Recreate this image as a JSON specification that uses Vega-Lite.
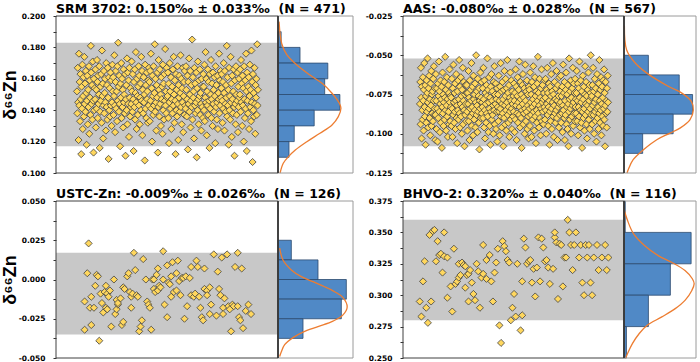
{
"$schema": "https://vega.github.io/schema/vega-lite/v6.json",
"padding": {"left": 1, "top": 2, "right": 4, "bottom": 0},
"datasets": {
"srm": [{"x":1,"y":0.152},{"x":2,"y":0.138},{"x":3,"y":0.167},{"x":4,"y":0.145},{"x":5,"y":0.121},{"x":6,"y":0.176},{"x":7,"y":0.143},{"x":8,"y":0.158},{"x":9,"y":0.133},{"x":10,"y":0.163},{"x":11,"y":0.147},{"x":12,"y":0.112},{"x":13,"y":0.155},{"x":14,"y":0.141},{"x":15,"y":0.169},{"x":16,"y":0.128},{"x":17,"y":0.149},{"x":18,"y":0.161},{"x":19,"y":0.136},{"x":20,"y":0.174},{"x":21,"y":0.144},{"x":22,"y":0.157},{"x":23,"y":0.139},{"x":24,"y":0.165},{"x":25,"y":0.151},{"x":26,"y":0.118},{"x":27,"y":0.146},{"x":28,"y":0.162},{"x":29,"y":0.131},{"x":30,"y":0.153},{"x":31,"y":0.142},{"x":32,"y":0.168},{"x":33,"y":0.125},{"x":34,"y":0.159},{"x":35,"y":0.148},{"x":36,"y":0.137},{"x":37,"y":0.181},{"x":38,"y":0.164},{"x":39,"y":0.144},{"x":40,"y":0.156},{"x":41,"y":0.134},{"x":42,"y":0.171},{"x":43,"y":0.146},{"x":44,"y":0.113},{"x":45,"y":0.160},{"x":46,"y":0.140},{"x":47,"y":0.154},
{"x":48,"y":0.147},{"x":49,"y":0.166},{"x":50,"y":0.129},{"x":51,"y":0.153},{"x":52,"y":0.141},{"x":53,"y":0.172},{"x":54,"y":0.158},{"x":55,"y":0.135},{"x":56,"y":0.162},{"x":57,"y":0.144},{"x":58,"y":0.150},{"x":59,"y":0.168},{"x":60,"y":0.116},{"x":61,"y":0.139},{"x":62,"y":0.155},{"x":63,"y":0.146},{"x":64,"y":0.163},{"x":65,"y":0.132},{"x":66,"y":0.178},{"x":67,"y":0.149},{"x":68,"y":0.157},{"x":69,"y":0.122},{"x":70,"y":0.143},{"x":71,"y":0.165},{"x":72,"y":0.138},{"x":73,"y":0.151},{"x":74,"y":0.160},{"x":75,"y":0.145},{"x":76,"y":0.127},{"x":77,"y":0.170},{"x":78,"y":0.142},{"x":79,"y":0.156},{"x":80,"y":0.134},{"x":81,"y":0.167},{"x":82,"y":0.148},{"x":83,"y":0.109},{"x":84,"y":0.161},{"x":85,"y":0.140},{"x":86,"y":0.154},{"x":87,"y":0.136},{"x":88,"y":0.164},{"x":89,"y":0.143},{"x":90,"y":0.159},{"x":91,"y":0.130},{"x":92,"y":0.145},{"x":93,"y":0.169},{"x":94,"y":0.152},
{"x":95,"y":0.161},{"x":96,"y":0.137},{"x":97,"y":0.149},{"x":98,"y":0.175},{"x":99,"y":0.143},{"x":100,"y":0.126},{"x":101,"y":0.158},{"x":102,"y":0.165},{"x":103,"y":0.141},{"x":104,"y":0.152},{"x":105,"y":0.133},{"x":106,"y":0.168},{"x":107,"y":0.146},{"x":108,"y":0.183},{"x":109,"y":0.155},{"x":110,"y":0.139},{"x":111,"y":0.162},{"x":112,"y":0.144},{"x":113,"y":0.117},{"x":114,"y":0.157},{"x":115,"y":0.148},{"x":116,"y":0.170},{"x":117,"y":0.135},{"x":118,"y":0.160},{"x":119,"y":0.142},{"x":120,"y":0.153},{"x":121,"y":0.129},{"x":122,"y":0.166},{"x":123,"y":0.145},{"x":124,"y":0.150},{"x":125,"y":0.138},{"x":126,"y":0.163},{"x":127,"y":0.111},{"x":128,"y":0.147},{"x":129,"y":0.156},{"x":130,"y":0.140},{"x":131,"y":0.173},{"x":132,"y":0.131},{"x":133,"y":0.164},{"x":134,"y":0.144},{"x":135,"y":0.159},{"x":136,"y":0.123},{"x":137,"y":0.167},{"x":138,"y":0.148},{"x":139,"y":0.136},{"x":140,"y":0.154},{"x":141,"y":0.142},
{"x":142,"y":0.144},{"x":143,"y":0.171},{"x":144,"y":0.152},{"x":145,"y":0.139},{"x":146,"y":0.163},{"x":147,"y":0.147},{"x":148,"y":0.114},{"x":149,"y":0.158},{"x":150,"y":0.142},{"x":151,"y":0.166},{"x":152,"y":0.134},{"x":153,"y":0.151},{"x":154,"y":0.177},{"x":155,"y":0.145},{"x":156,"y":0.128},{"x":157,"y":0.160},{"x":158,"y":0.149},{"x":159,"y":0.137},{"x":160,"y":0.155},{"x":161,"y":0.168},{"x":162,"y":0.143},{"x":163,"y":0.162},{"x":164,"y":0.131},{"x":165,"y":0.148},{"x":166,"y":0.157},{"x":167,"y":0.140},{"x":168,"y":0.174},{"x":169,"y":0.146},{"x":170,"y":0.165},{"x":171,"y":0.124},{"x":172,"y":0.153},{"x":173,"y":0.138},{"x":174,"y":0.161},{"x":175,"y":0.145},{"x":176,"y":0.150},{"x":177,"y":0.108},{"x":178,"y":0.169},{"x":179,"y":0.141},{"x":180,"y":0.156},{"x":181,"y":0.135},{"x":182,"y":0.164},{"x":183,"y":0.147},{"x":184,"y":0.152},{"x":185,"y":0.132},{"x":186,"y":0.159},{"x":187,"y":0.143},{"x":188,"y":0.167},
{"x":189,"y":0.158},{"x":190,"y":0.133},{"x":191,"y":0.165},{"x":192,"y":0.146},{"x":193,"y":0.176},{"x":194,"y":0.141},{"x":195,"y":0.154},{"x":196,"y":0.120},{"x":197,"y":0.162},{"x":198,"y":0.149},{"x":199,"y":0.137},{"x":200,"y":0.168},{"x":201,"y":0.143},{"x":202,"y":0.151},{"x":203,"y":0.182},{"x":204,"y":0.139},{"x":205,"y":0.160},{"x":206,"y":0.145},{"x":207,"y":0.127},{"x":208,"y":0.156},{"x":209,"y":0.148},{"x":210,"y":0.164},{"x":211,"y":0.113},{"x":212,"y":0.142},{"x":213,"y":0.172},{"x":214,"y":0.153},{"x":215,"y":0.136},{"x":216,"y":0.166},{"x":217,"y":0.144},{"x":218,"y":0.150},{"x":219,"y":0.130},{"x":220,"y":0.161},{"x":221,"y":0.147},{"x":222,"y":0.155},{"x":223,"y":0.125},{"x":224,"y":0.169},{"x":225,"y":0.140},{"x":226,"y":0.157},{"x":227,"y":0.134},{"x":228,"y":0.163},{"x":229,"y":0.146},{"x":230,"y":0.179},{"x":231,"y":0.143},{"x":232,"y":0.152},{"x":233,"y":0.138},{"x":234,"y":0.167},{"x":235,"y":0.148},
{"x":236,"y":0.149},{"x":237,"y":0.164},{"x":238,"y":0.135},{"x":239,"y":0.157},{"x":240,"y":0.119},{"x":241,"y":0.145},{"x":242,"y":0.170},{"x":243,"y":0.152},{"x":244,"y":0.141},{"x":245,"y":0.161},{"x":246,"y":0.128},{"x":247,"y":0.147},{"x":248,"y":0.155},{"x":249,"y":0.138},{"x":250,"y":0.166},{"x":251,"y":0.143},{"x":252,"y":0.174},{"x":253,"y":0.150},{"x":254,"y":0.132},{"x":255,"y":0.159},{"x":256,"y":0.146},{"x":257,"y":0.112},{"x":258,"y":0.163},{"x":259,"y":0.140},{"x":260,"y":0.153},{"x":261,"y":0.136},{"x":262,"y":0.168},{"x":263,"y":0.144},{"x":264,"y":0.121},{"x":265,"y":0.156},{"x":266,"y":0.148},{"x":267,"y":0.162},{"x":268,"y":0.139},{"x":269,"y":0.151},{"x":270,"y":0.175},{"x":271,"y":0.142},{"x":272,"y":0.160},{"x":273,"y":0.131},{"x":274,"y":0.154},{"x":275,"y":0.145},{"x":276,"y":0.167},{"x":277,"y":0.126},{"x":278,"y":0.149},{"x":279,"y":0.158},{"x":280,"y":0.137},{"x":281,"y":0.165},{"x":282,"y":0.143},
{"x":283,"y":0.141},{"x":284,"y":0.168},{"x":285,"y":0.153},{"x":286,"y":0.136},{"x":287,"y":0.147},{"x":288,"y":0.162},{"x":289,"y":0.115},{"x":290,"y":0.158},{"x":291,"y":0.144},{"x":292,"y":0.173},{"x":293,"y":0.139},{"x":294,"y":0.150},{"x":295,"y":0.165},{"x":296,"y":0.129},{"x":297,"y":0.146},{"x":298,"y":0.156},{"x":299,"y":0.142},{"x":300,"y":0.185},{"x":301,"y":0.134},{"x":302,"y":0.161},{"x":303,"y":0.148},{"x":304,"y":0.152},{"x":305,"y":0.122},{"x":306,"y":0.167},{"x":307,"y":0.143},{"x":308,"y":0.157},{"x":309,"y":0.138},{"x":310,"y":0.145},{"x":311,"y":0.164},{"x":312,"y":0.110},{"x":313,"y":0.154},{"x":314,"y":0.140},{"x":315,"y":0.171},{"x":316,"y":0.147},{"x":317,"y":0.131},{"x":318,"y":0.159},{"x":319,"y":0.149},{"x":320,"y":0.166},{"x":321,"y":0.137},{"x":322,"y":0.151},{"x":323,"y":0.144},{"x":324,"y":0.127},{"x":325,"y":0.160},{"x":326,"y":0.142},{"x":327,"y":0.155},{"x":328,"y":0.135},{"x":329,"y":0.163},
{"x":330,"y":0.155},{"x":331,"y":0.140},{"x":332,"y":0.169},{"x":333,"y":0.133},{"x":334,"y":0.148},{"x":335,"y":0.177},{"x":336,"y":0.145},{"x":337,"y":0.160},{"x":338,"y":0.124},{"x":339,"y":0.152},{"x":340,"y":0.143},{"x":341,"y":0.166},{"x":342,"y":0.137},{"x":343,"y":0.158},{"x":344,"y":0.146},{"x":345,"y":0.116},{"x":346,"y":0.163},{"x":347,"y":0.141},{"x":348,"y":0.150},{"x":349,"y":0.172},{"x":350,"y":0.135},{"x":351,"y":0.147},{"x":352,"y":0.157},{"x":353,"y":0.130},{"x":354,"y":0.164},{"x":355,"y":0.144},{"x":356,"y":0.153},{"x":357,"y":0.139},{"x":358,"y":0.161},{"x":359,"y":0.149},{"x":360,"y":0.119},{"x":361,"y":0.168},{"x":362,"y":0.142},{"x":363,"y":0.156},{"x":364,"y":0.134},{"x":365,"y":0.145},{"x":366,"y":0.162},{"x":367,"y":0.128},{"x":368,"y":0.151},{"x":369,"y":0.147},{"x":370,"y":0.176},{"x":371,"y":0.138},{"x":372,"y":0.159},{"x":373,"y":0.143},{"x":374,"y":0.165},{"x":375,"y":0.148},{"x":376,"y":0.154},
{"x":377,"y":0.163},{"x":378,"y":0.146},{"x":379,"y":0.132},{"x":380,"y":0.158},{"x":381,"y":0.141},{"x":382,"y":0.170},{"x":383,"y":0.151},{"x":384,"y":0.127},{"x":385,"y":0.165},{"x":386,"y":0.144},{"x":387,"y":0.139},{"x":388,"y":0.156},{"x":389,"y":0.148},{"x":390,"y":0.181},{"x":391,"y":0.136},{"x":392,"y":0.161},{"x":393,"y":0.143},{"x":394,"y":0.153},{"x":395,"y":0.118},{"x":396,"y":0.167},{"x":397,"y":0.140},{"x":398,"y":0.149},{"x":399,"y":0.134},{"x":400,"y":0.174},{"x":401,"y":0.145},{"x":402,"y":0.157},{"x":403,"y":0.123},{"x":404,"y":0.162},{"x":405,"y":0.147},{"x":406,"y":0.138},{"x":407,"y":0.152},{"x":408,"y":0.166},{"x":409,"y":0.142},{"x":410,"y":0.111},{"x":411,"y":0.159},{"x":412,"y":0.144},{"x":413,"y":0.131},{"x":414,"y":0.168},{"x":415,"y":0.150},{"x":416,"y":0.137},{"x":417,"y":0.146},{"x":418,"y":0.164},{"x":419,"y":0.126},{"x":420,"y":0.155},{"x":421,"y":0.142},{"x":422,"y":0.160},{"x":423,"y":0.148},
{"x":424,"y":0.150},{"x":425,"y":0.166},{"x":426,"y":0.139},{"x":427,"y":0.172},{"x":428,"y":0.145},{"x":429,"y":0.157},{"x":430,"y":0.130},{"x":431,"y":0.162},{"x":432,"y":0.143},{"x":433,"y":0.154},{"x":434,"y":0.120},{"x":435,"y":0.168},{"x":436,"y":0.147},{"x":437,"y":0.135},{"x":438,"y":0.159},{"x":439,"y":0.141},{"x":440,"y":0.176},{"x":441,"y":0.152},{"x":442,"y":0.114},{"x":443,"y":0.164},{"x":444,"y":0.146},{"x":445,"y":0.138},{"x":446,"y":0.155},{"x":447,"y":0.161},{"x":448,"y":0.128},{"x":449,"y":0.149},{"x":450,"y":0.169},{"x":451,"y":0.142},{"x":452,"y":0.153},{"x":453,"y":0.133},{"x":454,"y":0.178},{"x":455,"y":0.145},{"x":456,"y":0.158},{"x":457,"y":0.107},{"x":458,"y":0.163},{"x":459,"y":0.140},{"x":460,"y":0.151},{"x":461,"y":0.136},{"x":462,"y":0.167},{"x":463,"y":0.144},{"x":464,"y":0.125},{"x":465,"y":0.156},{"x":466,"y":0.148},{"x":467,"y":0.160},{"x":468,"y":0.137},{"x":469,"y":0.182},{"x":470,"y":0.143},{"x":471,"y":0.153}],
"aas": [{"x":1,"y":-0.081},{"x":2,"y":-0.067},{"x":3,"y":-0.094},{"x":4,"y":-0.058},{"x":5,"y":-0.077},{"x":6,"y":-0.103},{"x":7,"y":-0.070},{"x":8,"y":-0.085},{"x":9,"y":-0.091},{"x":10,"y":-0.064},{"x":11,"y":-0.079},{"x":12,"y":-0.098},{"x":13,"y":-0.072},{"x":14,"y":-0.055},{"x":15,"y":-0.083},{"x":16,"y":-0.089},{"x":17,"y":-0.069},{"x":18,"y":-0.107},{"x":19,"y":-0.076},{"x":20,"y":-0.093},{"x":21,"y":-0.066},{"x":22,"y":-0.086},{"x":23,"y":-0.074},{"x":24,"y":-0.052},{"x":25,"y":-0.080},{"x":26,"y":-0.096},{"x":27,"y":-0.071},{"x":28,"y":-0.084},{"x":29,"y":-0.063},{"x":30,"y":-0.090},{"x":31,"y":-0.078},{"x":32,"y":-0.101},{"x":33,"y":-0.068},{"x":34,"y":-0.082},{"x":35,"y":-0.060},{"x":36,"y":-0.095},{"x":37,"y":-0.075},{"x":38,"y":-0.087},{"x":39,"y":-0.073},{"x":40,"y":-0.092},{"x":41,"y":-0.065},{"x":42,"y":-0.079},{"x":43,"y":-0.057},{"x":44,"y":-0.088},{"x":45,"y":-0.084},{"x":46,"y":-0.071},{"x":47,"y":-0.104},
{"x":48,"y":-0.088},{"x":49,"y":-0.062},{"x":50,"y":-0.079},{"x":51,"y":-0.097},{"x":52,"y":-0.071},{"x":53,"y":-0.084},{"x":54,"y":-0.105},{"x":55,"y":-0.068},{"x":56,"y":-0.090},{"x":57,"y":-0.076},{"x":58,"y":-0.054},{"x":59,"y":-0.086},{"x":60,"y":-0.073},{"x":61,"y":-0.099},{"x":62,"y":-0.081},{"x":63,"y":-0.066},{"x":64,"y":-0.093},{"x":65,"y":-0.078},{"x":66,"y":-0.070},{"x":67,"y":-0.109},{"x":68,"y":-0.083},{"x":69,"y":-0.061},{"x":70,"y":-0.087},{"x":71,"y":-0.075},{"x":72,"y":-0.095},{"x":73,"y":-0.080},{"x":74,"y":-0.067},{"x":75,"y":-0.091},{"x":76,"y":-0.077},{"x":77,"y":-0.051},{"x":78,"y":-0.085},{"x":79,"y":-0.072},{"x":80,"y":-0.098},{"x":81,"y":-0.082},{"x":82,"y":-0.064},{"x":83,"y":-0.089},{"x":84,"y":-0.078},{"x":85,"y":-0.102},{"x":86,"y":-0.069},{"x":87,"y":-0.086},{"x":88,"y":-0.074},{"x":89,"y":-0.094},{"x":90,"y":-0.059},{"x":91,"y":-0.080},{"x":92,"y":-0.092},{"x":93,"y":-0.076},{"x":94,"y":-0.083},
{"x":95,"y":-0.077},{"x":96,"y":-0.095},{"x":97,"y":-0.065},{"x":98,"y":-0.084},{"x":99,"y":-0.102},{"x":100,"y":-0.071},{"x":101,"y":-0.088},{"x":102,"y":-0.056},{"x":103,"y":-0.080},{"x":104,"y":-0.093},{"x":105,"y":-0.074},{"x":106,"y":-0.086},{"x":107,"y":-0.068},{"x":108,"y":-0.097},{"x":109,"y":-0.079},{"x":110,"y":-0.062},{"x":111,"y":-0.090},{"x":112,"y":-0.082},{"x":113,"y":-0.106},{"x":114,"y":-0.073},{"x":115,"y":-0.085},{"x":116,"y":-0.066},{"x":117,"y":-0.091},{"x":118,"y":-0.078},{"x":119,"y":-0.053},{"x":120,"y":-0.087},{"x":121,"y":-0.070},{"x":122,"y":-0.096},{"x":123,"y":-0.081},{"x":124,"y":-0.064},{"x":125,"y":-0.089},{"x":126,"y":-0.076},{"x":127,"y":-0.100},{"x":128,"y":-0.072},{"x":129,"y":-0.083},{"x":130,"y":-0.058},{"x":131,"y":-0.094},{"x":132,"y":-0.079},{"x":133,"y":-0.067},{"x":134,"y":-0.085},{"x":135,"y":-0.108},{"x":136,"y":-0.075},{"x":137,"y":-0.088},{"x":138,"y":-0.069},{"x":139,"y":-0.081},{"x":140,"y":-0.092},{"x":141,"y":-0.074},
{"x":142,"y":-0.069},{"x":143,"y":-0.086},{"x":144,"y":-0.098},{"x":145,"y":-0.074},{"x":146,"y":-0.081},{"x":147,"y":-0.060},{"x":148,"y":-0.092},{"x":149,"y":-0.077},{"x":150,"y":-0.104},{"x":151,"y":-0.066},{"x":152,"y":-0.084},{"x":153,"y":-0.089},{"x":154,"y":-0.072},{"x":155,"y":-0.079},{"x":156,"y":-0.055},{"x":157,"y":-0.095},{"x":158,"y":-0.083},{"x":159,"y":-0.070},{"x":160,"y":-0.087},{"x":161,"y":-0.101},{"x":162,"y":-0.063},{"x":163,"y":-0.078},{"x":164,"y":-0.091},{"x":165,"y":-0.075},{"x":166,"y":-0.085},{"x":167,"y":-0.068},{"x":168,"y":-0.096},{"x":169,"y":-0.080},{"x":170,"y":-0.050},{"x":171,"y":-0.088},{"x":172,"y":-0.073},{"x":173,"y":-0.082},{"x":174,"y":-0.099},{"x":175,"y":-0.065},{"x":176,"y":-0.086},{"x":177,"y":-0.076},{"x":178,"y":-0.093},{"x":179,"y":-0.071},{"x":180,"y":-0.110},{"x":181,"y":-0.079},{"x":182,"y":-0.084},{"x":183,"y":-0.061},{"x":184,"y":-0.090},{"x":185,"y":-0.077},{"x":186,"y":-0.067},{"x":187,"y":-0.087},{"x":188,"y":-0.080},
{"x":189,"y":-0.083},{"x":190,"y":-0.071},{"x":191,"y":-0.090},{"x":192,"y":-0.058},{"x":193,"y":-0.078},{"x":194,"y":-0.096},{"x":195,"y":-0.066},{"x":196,"y":-0.085},{"x":197,"y":-0.103},{"x":198,"y":-0.074},{"x":199,"y":-0.081},{"x":200,"y":-0.093},{"x":201,"y":-0.069},{"x":202,"y":-0.087},{"x":203,"y":-0.076},{"x":204,"y":-0.052},{"x":205,"y":-0.089},{"x":206,"y":-0.072},{"x":207,"y":-0.099},{"x":208,"y":-0.080},{"x":209,"y":-0.064},{"x":210,"y":-0.084},{"x":211,"y":-0.095},{"x":212,"y":-0.077},{"x":213,"y":-0.107},{"x":214,"y":-0.070},{"x":215,"y":-0.086},{"x":216,"y":-0.062},{"x":217,"y":-0.091},{"x":218,"y":-0.079},{"x":219,"y":-0.073},{"x":220,"y":-0.088},{"x":221,"y":-0.082},{"x":222,"y":-0.100},{"x":223,"y":-0.067},{"x":224,"y":-0.085},{"x":225,"y":-0.057},{"x":226,"y":-0.094},{"x":227,"y":-0.075},{"x":228,"y":-0.081},{"x":229,"y":-0.068},{"x":230,"y":-0.097},{"x":231,"y":-0.078},{"x":232,"y":-0.086},{"x":233,"y":-0.071},{"x":234,"y":-0.105},{"x":235,"y":-0.083},
{"x":236,"y":-0.075},{"x":237,"y":-0.092},{"x":238,"y":-0.063},{"x":239,"y":-0.086},{"x":240,"y":-0.079},{"x":241,"y":-0.101},{"x":242,"y":-0.070},{"x":243,"y":-0.084},{"x":244,"y":-0.055},{"x":245,"y":-0.089},{"x":246,"y":-0.073},{"x":247,"y":-0.096},{"x":248,"y":-0.081},{"x":249,"y":-0.067},{"x":250,"y":-0.087},{"x":251,"y":-0.078},{"x":252,"y":-0.108},{"x":253,"y":-0.072},{"x":254,"y":-0.090},{"x":255,"y":-0.060},{"x":256,"y":-0.082},{"x":257,"y":-0.094},{"x":258,"y":-0.076},{"x":259,"y":-0.065},{"x":260,"y":-0.085},{"x":261,"y":-0.098},{"x":262,"y":-0.071},{"x":263,"y":-0.080},{"x":264,"y":-0.053},{"x":265,"y":-0.088},{"x":266,"y":-0.074},{"x":267,"y":-0.093},{"x":268,"y":-0.083},{"x":269,"y":-0.069},{"x":270,"y":-0.102},{"x":271,"y":-0.077},{"x":272,"y":-0.086},{"x":273,"y":-0.061},{"x":274,"y":-0.091},{"x":275,"y":-0.079},{"x":276,"y":-0.066},{"x":277,"y":-0.084},{"x":278,"y":-0.097},{"x":279,"y":-0.073},{"x":280,"y":-0.081},{"x":281,"y":-0.089},{"x":282,"y":-0.076},
{"x":283,"y":-0.086},{"x":284,"y":-0.068},{"x":285,"y":-0.079},{"x":286,"y":-0.099},{"x":287,"y":-0.074},{"x":288,"y":-0.091},{"x":289,"y":-0.059},{"x":290,"y":-0.082},{"x":291,"y":-0.070},{"x":292,"y":-0.104},{"x":293,"y":-0.087},{"x":294,"y":-0.076},{"x":295,"y":-0.064},{"x":296,"y":-0.093},{"x":297,"y":-0.080},{"x":298,"y":-0.072},{"x":299,"y":-0.088},{"x":300,"y":-0.054},{"x":301,"y":-0.083},{"x":302,"y":-0.096},{"x":303,"y":-0.067},{"x":304,"y":-0.078},{"x":305,"y":-0.090},{"x":306,"y":-0.075},{"x":307,"y":-0.109},{"x":308,"y":-0.085},{"x":309,"y":-0.069},{"x":310,"y":-0.081},{"x":311,"y":-0.062},{"x":312,"y":-0.094},{"x":313,"y":-0.077},{"x":314,"y":-0.087},{"x":315,"y":-0.071},{"x":316,"y":-0.100},{"x":317,"y":-0.084},{"x":318,"y":-0.056},{"x":319,"y":-0.079},{"x":320,"y":-0.092},{"x":321,"y":-0.073},{"x":322,"y":-0.086},{"x":323,"y":-0.066},{"x":324,"y":-0.097},{"x":325,"y":-0.082},{"x":326,"y":-0.075},{"x":327,"y":-0.089},{"x":328,"y":-0.103},{"x":329,"y":-0.070},
{"x":330,"y":-0.072},{"x":331,"y":-0.084},{"x":332,"y":-0.095},{"x":333,"y":-0.061},{"x":334,"y":-0.080},{"x":335,"y":-0.088},{"x":336,"y":-0.075},{"x":337,"y":-0.102},{"x":338,"y":-0.067},{"x":339,"y":-0.083},{"x":340,"y":-0.091},{"x":341,"y":-0.078},{"x":342,"y":-0.057},{"x":343,"y":-0.086},{"x":344,"y":-0.070},{"x":345,"y":-0.098},{"x":346,"y":-0.081},{"x":347,"y":-0.064},{"x":348,"y":-0.089},{"x":349,"y":-0.076},{"x":350,"y":-0.106},{"x":351,"y":-0.073},{"x":352,"y":-0.085},{"x":353,"y":-0.093},{"x":354,"y":-0.068},{"x":355,"y":-0.079},{"x":356,"y":-0.051},{"x":357,"y":-0.087},{"x":358,"y":-0.074},{"x":359,"y":-0.096},{"x":360,"y":-0.082},{"x":361,"y":-0.065},{"x":362,"y":-0.090},{"x":363,"y":-0.077},{"x":364,"y":-0.101},{"x":365,"y":-0.071},{"x":366,"y":-0.084},{"x":367,"y":-0.059},{"x":368,"y":-0.092},{"x":369,"y":-0.080},{"x":370,"y":-0.069},{"x":371,"y":-0.086},{"x":372,"y":-0.078},{"x":373,"y":-0.094},{"x":374,"y":-0.074},{"x":375,"y":-0.083},{"x":376,"y":-0.066},
{"x":377,"y":-0.091},{"x":378,"y":-0.077},{"x":379,"y":-0.065},{"x":380,"y":-0.085},{"x":381,"y":-0.100},{"x":382,"y":-0.072},{"x":383,"y":-0.081},{"x":384,"y":-0.058},{"x":385,"y":-0.088},{"x":386,"y":-0.074},{"x":387,"y":-0.095},{"x":388,"y":-0.083},{"x":389,"y":-0.068},{"x":390,"y":-0.079},{"x":391,"y":-0.107},{"x":392,"y":-0.086},{"x":393,"y":-0.070},{"x":394,"y":-0.092},{"x":395,"y":-0.076},{"x":396,"y":-0.062},{"x":397,"y":-0.084},{"x":398,"y":-0.097},{"x":399,"y":-0.073},{"x":400,"y":-0.080},{"x":401,"y":-0.055},{"x":402,"y":-0.089},{"x":403,"y":-0.075},{"x":404,"y":-0.102},{"x":405,"y":-0.082},{"x":406,"y":-0.067},{"x":407,"y":-0.087},{"x":408,"y":-0.078},{"x":409,"y":-0.093},{"x":410,"y":-0.071},{"x":411,"y":-0.085},{"x":412,"y":-0.060},{"x":413,"y":-0.090},{"x":414,"y":-0.079},{"x":415,"y":-0.104},{"x":416,"y":-0.069},{"x":417,"y":-0.083},{"x":418,"y":-0.076},{"x":419,"y":-0.096},{"x":420,"y":-0.064},{"x":421,"y":-0.081},{"x":422,"y":-0.088},{"x":423,"y":-0.073},
{"x":424,"y":-0.080},{"x":425,"y":-0.063},{"x":426,"y":-0.093},{"x":427,"y":-0.076},{"x":428,"y":-0.087},{"x":429,"y":-0.070},{"x":430,"y":-0.099},{"x":431,"y":-0.082},{"x":432,"y":-0.056},{"x":433,"y":-0.085},{"x":434,"y":-0.074},{"x":435,"y":-0.090},{"x":436,"y":-0.067},{"x":437,"y":-0.104},{"x":438,"y":-0.079},{"x":439,"y":-0.088},{"x":440,"y":-0.072},{"x":441,"y":-0.061},{"x":442,"y":-0.094},{"x":443,"y":-0.083},{"x":444,"y":-0.075},{"x":445,"y":-0.097},{"x":446,"y":-0.069},{"x":447,"y":-0.081},{"x":448,"y":-0.108},{"x":449,"y":-0.086},{"x":450,"y":-0.052},{"x":451,"y":-0.078},{"x":452,"y":-0.091},{"x":453,"y":-0.073},{"x":454,"y":-0.084},{"x":455,"y":-0.066},{"x":456,"y":-0.100},{"x":457,"y":-0.077},{"x":458,"y":-0.089},{"x":459,"y":-0.071},{"x":460,"y":-0.082},{"x":461,"y":-0.058},{"x":462,"y":-0.095},{"x":463,"y":-0.080},{"x":464,"y":-0.068},{"x":465,"y":-0.087},{"x":466,"y":-0.074},{"x":467,"y":-0.092},{"x":468,"y":-0.065},{"x":469,"y":-0.083},{"x":470,"y":-0.078},
{"x":471,"y":-0.087},{"x":472,"y":-0.074},{"x":473,"y":-0.060},{"x":474,"y":-0.092},{"x":475,"y":-0.079},{"x":476,"y":-0.068},{"x":477,"y":-0.101},{"x":478,"y":-0.083},{"x":479,"y":-0.071},{"x":480,"y":-0.089},{"x":481,"y":-0.054},{"x":482,"y":-0.077},{"x":483,"y":-0.096},{"x":484,"y":-0.085},{"x":485,"y":-0.066},{"x":486,"y":-0.080},{"x":487,"y":-0.093},{"x":488,"y":-0.073},{"x":489,"y":-0.109},{"x":490,"y":-0.086},{"x":491,"y":-0.063},{"x":492,"y":-0.078},{"x":493,"y":-0.090},{"x":494,"y":-0.070},{"x":495,"y":-0.084},{"x":496,"y":-0.098},{"x":497,"y":-0.075},{"x":498,"y":-0.057},{"x":499,"y":-0.088},{"x":500,"y":-0.081},{"x":501,"y":-0.067},{"x":502,"y":-0.094},{"x":503,"y":-0.076},{"x":504,"y":-0.103},{"x":505,"y":-0.082},{"x":506,"y":-0.072},{"x":507,"y":-0.086},{"x":508,"y":-0.061},{"x":509,"y":-0.091},{"x":510,"y":-0.079},{"x":511,"y":-0.069},{"x":512,"y":-0.097},{"x":513,"y":-0.084},{"x":514,"y":-0.074},{"x":515,"y":-0.050},{"x":516,"y":-0.088},{"x":517,"y":-0.077},
{"x":518,"y":-0.076},{"x":519,"y":-0.094},{"x":520,"y":-0.069},{"x":521,"y":-0.082},{"x":522,"y":-0.058},{"x":523,"y":-0.088},{"x":524,"y":-0.073},{"x":525,"y":-0.100},{"x":526,"y":-0.080},{"x":527,"y":-0.065},{"x":528,"y":-0.086},{"x":529,"y":-0.092},{"x":530,"y":-0.071},{"x":531,"y":-0.078},{"x":532,"y":-0.105},{"x":533,"y":-0.084},{"x":534,"y":-0.062},{"x":535,"y":-0.090},{"x":536,"y":-0.075},{"x":537,"y":-0.083},{"x":538,"y":-0.097},{"x":539,"y":-0.068},{"x":540,"y":-0.087},{"x":541,"y":-0.053},{"x":542,"y":-0.079},{"x":543,"y":-0.093},{"x":544,"y":-0.072},{"x":545,"y":-0.085},{"x":546,"y":-0.064},{"x":547,"y":-0.101},{"x":548,"y":-0.081},{"x":549,"y":-0.070},{"x":550,"y":-0.089},{"x":551,"y":-0.077},{"x":552,"y":-0.095},{"x":553,"y":-0.066},{"x":554,"y":-0.084},{"x":555,"y":-0.059},{"x":556,"y":-0.091},{"x":557,"y":-0.074},{"x":558,"y":-0.108},{"x":559,"y":-0.082},{"x":560,"y":-0.067},{"x":561,"y":-0.087},{"x":562,"y":-0.079},{"x":563,"y":-0.096},{"x":564,"y":-0.071},{"x":565,"y":-0.086},{"x":566,"y":-0.063},{"x":567,"y":-0.080}],
"ustc": [{"x":4,"y":0.023},{"x":3,"y":0.004},{"x":1,"y":-0.032},{"x":6,"y":-0.029},{"x":12,"y":-0.039},{"x":1,"y":-0.014},{"x":5,"y":-0.018},{"x":8,"y":-0.018},{"x":10,"y":0.003},{"x":11,"y":0.002},{"x":6,"y":-0.011},{"x":9,"y":-0.004},{"x":13,"y":-0.009},{"x":14,"y":-0.015},{"x":15,"y":-0.021},{"x":17,"y":-0.018},{"x":18,"y":-0.019},{"x":16,"y":-0.008},{"x":17,"y":-0.004},{"x":18,"y":-0.009},{"x":19,"y":-0.011},{"x":20,"y":-0.007},{"x":21,"y":-0.030},{"x":23,"y":0.000},{"x":24,"y":-0.022},{"x":25,"y":-0.019},{"x":25,"y":-0.013},{"x":26,"y":-0.016},{"x":26,"y":-0.015},{"x":28,"y":-0.012},{"x":29,"y":-0.029},{"x":30,"y":-0.027},{"x":30,"y":-0.005},{"x":31,"y":-0.006},{"x":33,"y":0.002},{"x":34,"y":0.004},{"x":35,"y":-0.008},{"x":36,"y":-0.018},{"x":36,"y":-0.011},{"x":37,"y":-0.009},{"x":38,"y":0.017},{"x":39,"y":0.006},{"x":40,"y":-0.010},{"x":41,"y":-0.011},{"x":42,"y":-0.033},{"x":43,"y":-0.030},{"x":44,"y":-0.026},{"x":45,"y":0.013},{"x":47,"y":0.000},{"x":48,"y":-0.014},{"x":49,"y":-0.016},{"x":50,"y":-0.018},{"x":51,"y":-0.032},{"x":52,"y":0.000},{"x":53,"y":0.000},{"x":53,"y":-0.006},{"x":54,"y":-0.008},{"x":55,"y":0.003},{"x":56,"y":-0.007},{"x":56,"y":0.007},{"x":57,"y":-0.004},{"x":58,"y":-0.005},{"x":60,"y":0.018},{"x":60,"y":0.000},{"x":61,"y":-0.016},{"x":63,"y":-0.024},{"x":63,"y":0.009},{"x":64,"y":-0.002},{"x":65,"y":-0.003},{"x":66,"y":0.002},{"x":66,"y":-0.011},{"x":67,"y":0.011},{"x":68,"y":-0.008},{"x":70,"y":0.004},{"x":70,"y":-0.007},{"x":71,"y":0.012},{"x":72,"y":-0.001},{"x":73,"y":-0.010},{"x":74,"y":0.001},{"x":75,"y":0.001},{"x":76,"y":-0.025},{"x":77,"y":0.002},{"x":78,"y":-0.017},{"x":80,"y":0.001},{"x":81,"y":0.008},{"x":81,"y":-0.010},{"x":83,"y":-0.011},{"x":84,"y":-0.009},{"x":85,"y":0.012},{"x":86,"y":0.008},{"x":87,"y":-0.011},{"x":88,"y":-0.018},{"x":89,"y":-0.024},{"x":90,"y":-0.026},{"x":91,"y":0.007},{"x":91,"y":-0.006},{"x":93,"y":-0.007},{"x":93,"y":-0.010},{"x":95,"y":-0.022},{"x":95,"y":-0.005},{"x":96,"y":-0.016},{"x":98,"y":0.016},{"x":100,"y":-0.023},{"x":101,"y":0.005},{"x":102,"y":-0.006},{"x":103,"y":-0.010},{"x":104,"y":0.014},{"x":105,"y":-0.018},{"x":105,"y":-0.022},{"x":106,"y":-0.012},{"x":108,"y":0.016},{"x":109,"y":-0.017},{"x":110,"y":-0.019},{"x":111,"y":-0.033},{"x":112,"y":-0.016},{"x":113,"y":-0.017},{"x":114,"y":0.008},{"x":116,"y":-0.017},{"x":116,"y":0.017},{"x":117,"y":-0.024},{"x":118,"y":-0.026},{"x":119,"y":0.007},{"x":120,"y":-0.031},{"x":122,"y":-0.020},{"x":124,"y":-0.016},{"x":126,"y":-0.022}],
"bhvo": [{"x":0,"y":0.295},{"x":1,"y":0.283},{"x":2,"y":0.311},{"x":3,"y":0.327},{"x":4,"y":0.290},{"x":5,"y":0.278},{"x":6,"y":0.348},{"x":7,"y":0.295},{"x":8,"y":0.351},{"x":9,"y":0.352},{"x":10,"y":0.327},{"x":11,"y":0.343},{"x":12,"y":0.332},{"x":13,"y":0.333},{"x":14,"y":0.318},{"x":15,"y":0.331},{"x":15,"y":0.350},{"x":17,"y":0.298},{"x":17,"y":0.330},{"x":19,"y":0.307},{"x":20,"y":0.287},{"x":21,"y":0.337},{"x":22,"y":0.309},{"x":23,"y":0.311},{"x":24,"y":0.314},{"x":24,"y":0.325},{"x":25,"y":0.316},{"x":26,"y":0.326},{"x":27,"y":0.324},{"x":28,"y":0.323},{"x":28,"y":0.306},{"x":29,"y":0.316},{"x":30,"y":0.317},{"x":30,"y":0.295},{"x":31,"y":0.320},{"x":32,"y":0.310},{"x":33,"y":0.301},{"x":34,"y":0.296},{"x":35,"y":0.325},{"x":36,"y":0.319},{"x":37,"y":0.290},{"x":38,"y":0.314},{"x":39,"y":0.317},{"x":39,"y":0.340},{"x":41,"y":0.313},{"x":41,"y":0.328},{"x":43,"y":0.332},{"x":44,"y":0.311},{"x":45,"y":0.295},{"x":46,"y":0.318},{"x":47,"y":0.326},{"x":48,"y":0.337},{"x":49,"y":0.276},{"x":50,"y":0.262},{"x":51,"y":0.343},{"x":52,"y":0.339},{"x":53,"y":0.335},{"x":54,"y":0.328},{"x":55,"y":0.326},{"x":56,"y":0.280},{"x":57,"y":0.290},{"x":58,"y":0.301},{"x":59,"y":0.283},{"x":60,"y":0.325},{"x":62,"y":0.272},{"x":63,"y":0.284},{"x":63,"y":0.311},{"x":64,"y":0.345},{"x":65,"y":0.338},{"x":66,"y":0.325},{"x":67,"y":0.327},{"x":68,"y":0.328},{"x":69,"y":0.310},{"x":70,"y":0.321},{"x":71,"y":0.299},{"x":72,"y":0.322},{"x":73,"y":0.346},{"x":74,"y":0.311},{"x":75,"y":0.345},{"x":76,"y":0.338},{"x":77,"y":0.327},{"x":78,"y":0.328},{"x":79,"y":0.322},{"x":80,"y":0.309},{"x":82,"y":0.321},{"x":83,"y":0.346},{"x":83,"y":0.350},{"x":84,"y":0.342},{"x":85,"y":0.297},{"x":86,"y":0.341},{"x":87,"y":0.340},{"x":88,"y":0.307},{"x":89,"y":0.330},{"x":90,"y":0.330},{"x":91,"y":0.360},{"x":92,"y":0.350},{"x":93,"y":0.340},{"x":94,"y":0.320},{"x":95,"y":0.340},{"x":96,"y":0.350},{"x":98,"y":0.330},{"x":99,"y":0.340},{"x":100,"y":0.310},{"x":101,"y":0.300},{"x":102,"y":0.340},{"x":103,"y":0.330},{"x":104,"y":0.340},{"x":105,"y":0.310},{"x":106,"y":0.300},{"x":107,"y":0.330},{"x":109,"y":0.340},{"x":110,"y":0.320},{"x":112,"y":0.330},{"x":114,"y":0.340},{"x":115,"y":0.320},{"x":116,"y":0.330}],
"srmh": [{"lo":0.18,"hi":0.19,"c":6},{"lo":0.17,"hi":0.18,"c":42},{"lo":0.16,"hi":0.17,"c":95},{"lo":0.15,"hi":0.16,"c":89},{"lo":0.14,"hi":0.15,"c":118},{"lo":0.13,"hi":0.14,"c":69},{"lo":0.12,"hi":0.13,"c":31},{"lo":0.11,"hi":0.12,"c":21}],
"aash": [{"lo":-0.0625,"hi":-0.05,"c":64},{"lo":-0.075,"hi":-0.0625,"c":145},{"lo":-0.0875,"hi":-0.075,"c":180},{"lo":-0.1,"hi":-0.0875,"c":129},{"lo":-0.1125,"hi":-0.1,"c":49}],
"ustch": [{"lo":0.0125,"hi":0.025,"c":8},{"lo":0,"hi":0.0125,"c":24},{"lo":-0.0125,"hi":0,"c":41},{"lo":-0.025,"hi":-0.0125,"c":38},{"lo":-0.0375,"hi":-0.025,"c":15}],
"bhvoh": [{"lo":0.35,"hi":0.375,"c":1},{"lo":0.325,"hi":0.35,"c":55},{"lo":0.3,"hi":0.325,"c":38},{"lo":0.275,"hi":0.3,"c":20},{"lo":0.25,"hi":0.275,"c":2}],
"srmc": [{"v":0.1964,"d":2},{"v":0.1826,"d":7},{"v":0.1752,"d":17},{"v":0.1688,"d":36},{"v":0.1624,"d":61},{"v":0.1571,"d":84},{"v":0.1508,"d":103},{"v":0.1444,"d":117},{"v":0.1412,"d":120},{"v":0.1359,"d":115},{"v":0.1306,"d":103},{"v":0.1253,"d":80},{"v":0.1199,"d":55},{"v":0.1146,"d":33},{"v":0.1104,"d":20},{"v":0.1062,"d":10},{"v":0.1,"d":4}],
"aasc": [{"v":-0.031,"d":1},{"v":-0.0466,"d":7},{"v":-0.0551,"d":30},{"v":-0.0614,"d":60},{"v":-0.0699,"d":117},{"v":-0.0741,"d":152},{"v":-0.0795,"d":177},{"v":-0.0848,"d":182},{"v":-0.0911,"d":173},{"v":-0.0964,"d":147},{"v":-0.0996,"d":121},{"v":-0.1038,"d":86},{"v":-0.1102,"d":51},{"v":-0.1165,"d":24},{"v":-0.1229,"d":11},{"v":-0.125,"d":8}],
"ustcc": [{"v":0.02,"d":1},{"v":0.0124,"d":3},{"v":0.0061,"d":8},{"v":0.0018,"d":14},{"v":-0.0014,"d":21},{"v":-0.0046,"d":28},{"v":-0.0078,"d":34},{"v":-0.0115,"d":39},{"v":-0.0175,"d":41.5},{"v":-0.0225,"d":39},{"v":-0.0265,"d":33},{"v":-0.03,"d":24},{"v":-0.0335,"d":15},{"v":-0.037,"d":9},{"v":-0.0415,"d":4},{"v":-0.046,"d":2},{"v":-0.049,"d":1}],
"bhvoc": [{"v":0.3684,"d":0},{"v":0.3592,"d":3},{"v":0.3486,"d":8},{"v":0.3394,"d":17},{"v":0.3315,"d":28},{"v":0.3262,"d":39},{"v":0.3196,"d":50},{"v":0.3131,"d":56},{"v":0.3091,"d":57.5},{"v":0.3038,"d":55.6},{"v":0.2959,"d":50},{"v":0.2893,"d":42},{"v":0.2827,"d":31},{"v":0.2761,"d":19},{"v":0.2695,"d":12.5},{"v":0.2616,"d":7},{"v":0.2537,"d":3},{"v":0.2498,"d":1.4}]
},
"columns": 2,
"spacing": {"row": 28, "column": 50},
"bounds": "flush",
"concat": [
{
"width": 297, "height": 157,
"title": {"text": "SRM 3702: 0.150‰ ± 0.033‰\u00a0 (N = 471)"},
"resolve": {"scale": {"x": "independent"}},
"layer": [
{"data": {"values": [{"lo": 0.117, "hi": 0.183}]}, "mark": {"type": "rect", "color": "#c8c8c8"},
 "encoding": {"x": {"datum": 0, "type": "quantitative", "scale": {"domain": [0, 1], "range": [0, 222], "nice": false}, "axis": null}, "x2": {"datum": 1},
  "y": {"field": "hi", "type": "quantitative", "scale": {"domain": [0.1, 0.2], "nice": false, "zero": false},
   "axis": {"title": "δ⁶⁶Zn", "values": [0.1, 0.11, 0.12, 0.13, 0.14, 0.15, 0.16, 0.17, 0.18, 0.19, 0.2], "format": ".3f", "labelExpr": "round(datum.value*1000) % 20 == 0 ? datum.label : ''"}},
  "y2": {"field": "lo"}}},
{"data": {"name": "srm"}, "mark": {"type": "point", "shape": "diamond", "filled": true, "fill": "#ffd75e", "stroke": "#404040", "strokeWidth": 0.8, "size": 50, "opacity": 1},
 "encoding": {"x": {"field": "x", "type": "quantitative", "scale": {"domain": [-53.5, 523], "range": [0, 222], "nice": false, "zero": false}, "axis": null},
  "y": {"field": "y", "type": "quantitative", "axis": {"title": "δ⁶⁶Zn", "values": [0.1, 0.11, 0.12, 0.13, 0.14, 0.15, 0.16, 0.17, 0.18, 0.19, 0.2], "format": ".3f", "labelExpr": "round(datum.value*1000) % 20 == 0 ? datum.label : ''"}}}},
{"data": {"name": "srmh"}, "mark": {"type": "rect", "fill": "#5089c6", "stroke": "#2b4a6f", "strokeWidth": 0.8},
 "encoding": {"x": {"field": "c", "type": "quantitative", "scale": {"domain": [0, 143], "range": [222, 297], "nice": false}, "axis": null}, "x2": {"datum": 0},
  "y": {"field": "lo", "type": "quantitative", "axis": {"title": "δ⁶⁶Zn", "values": [0.1, 0.11, 0.12, 0.13, 0.14, 0.15, 0.16, 0.17, 0.18, 0.19, 0.2], "format": ".3f", "labelExpr": "round(datum.value*1000) % 20 == 0 ? datum.label : ''"}}, "y2": {"field": "hi"}}},
{"data": {"name": "srmc"}, "mark": {"type": "line", "color": "#ed7d31", "strokeWidth": 1.3, "interpolate": "catmull-rom"},
 "encoding": {"x": {"field": "d", "type": "quantitative", "scale": {"domain": [0, 143], "range": [222, 297], "nice": false}, "axis": null},
  "y": {"field": "v", "type": "quantitative", "axis": {"title": "δ⁶⁶Zn", "values": [0.1, 0.11, 0.12, 0.13, 0.14, 0.15, 0.16, 0.17, 0.18, 0.19, 0.2], "format": ".3f", "labelExpr": "round(datum.value*1000) % 20 == 0 ? datum.label : ''"}}, "order": {"field": "v", "type": "quantitative"}}},
{"data": {"values": [{"y0": 0.1, "y1": 0.2}]}, "mark": {"type": "rect", "filled": false, "color": "#9a9a9a", "strokeWidth": 1},
 "encoding": {"x": {"datum": 0, "type": "quantitative", "scale": {"domain": [0, 1], "range": [222, 297], "nice": false}, "axis": null}, "x2": {"datum": 1},
  "y": {"field": "y0", "type": "quantitative", "axis": {"title": "δ⁶⁶Zn", "values": [0.1, 0.11, 0.12, 0.13, 0.14, 0.15, 0.16, 0.17, 0.18, 0.19, 0.2], "format": ".3f", "labelExpr": "round(datum.value*1000) % 20 == 0 ? datum.label : ''"}}, "y2": {"field": "y1"}}},
{"data": {"values": [{"y0": 0.1, "y1": 0.2}]}, "mark": {"type": "rect", "filled": false, "color": "#404040", "strokeWidth": 1},
 "encoding": {"x": {"datum": 0, "type": "quantitative", "scale": {"domain": [0, 1], "range": [0, 222], "nice": false}, "axis": null}, "x2": {"datum": 1},
  "y": {"field": "y0", "type": "quantitative", "axis": {"title": "δ⁶⁶Zn", "values": [0.1, 0.11, 0.12, 0.13, 0.14, 0.15, 0.16, 0.17, 0.18, 0.19, 0.2], "format": ".3f", "labelExpr": "round(datum.value*1000) % 20 == 0 ? datum.label : ''"}}, "y2": {"field": "y1"}}},
{"data": {"values": [{"y0": 0.1, "y1": 0.2}]}, "mark": {"type": "rule", "color": "#333333", "strokeWidth": 1.6},
 "encoding": {"x": {"datum": 0, "type": "quantitative", "scale": {"domain": [0, 1], "range": [222, 297], "nice": false}, "axis": null},
  "y": {"field": "y0", "type": "quantitative", "axis": {"title": "δ⁶⁶Zn", "values": [0.1, 0.11, 0.12, 0.13, 0.14, 0.15, 0.16, 0.17, 0.18, 0.19, 0.2], "format": ".3f", "labelExpr": "round(datum.value*1000) % 20 == 0 ? datum.label : ''"}}, "y2": {"field": "y1"}}}
]
},
{
"width": 293, "height": 157,
"title": {"text": "AAS: -0.080‰ ± 0.028‰\u00a0 (N = 567)"},
"resolve": {"scale": {"x": "independent"}},
"layer": [
{"data": {"values": [{"lo": -0.108, "hi": -0.052}]}, "mark": {"type": "rect", "color": "#c8c8c8"},
 "encoding": {"x": {"datum": 0, "type": "quantitative", "scale": {"domain": [0, 1], "range": [0, 221], "nice": false}, "axis": null}, "x2": {"datum": 1},
  "y": {"field": "hi", "type": "quantitative", "scale": {"domain": [-0.125, -0.025], "nice": false, "zero": false},
   "axis": {"title": null, "values": [-0.125, -0.1125, -0.1, -0.0875, -0.075, -0.0625, -0.05, -0.0375, -0.025], "format": ".3f", "labelExpr": "round(datum.value*10000) % 250 == 0 ? datum.label : ''"}},
  "y2": {"field": "lo"}}},
{"data": {"name": "aas"}, "mark": {"type": "point", "shape": "diamond", "filled": true, "fill": "#ffd75e", "stroke": "#404040", "strokeWidth": 0.8, "size": 50, "opacity": 1},
 "encoding": {"x": {"field": "x", "type": "quantitative", "scale": {"domain": [-50, 615], "range": [0, 221], "nice": false, "zero": false}, "axis": null},
  "y": {"field": "y", "type": "quantitative", "axis": {"title": null, "values": [-0.125, -0.1125, -0.1, -0.0875, -0.075, -0.0625, -0.05, -0.0375, -0.025], "format": ".3f", "labelExpr": "round(datum.value*10000) % 250 == 0 ? datum.label : ''"}}}},
{"data": {"name": "aash"}, "mark": {"type": "rect", "fill": "#5089c6", "stroke": "#2b4a6f", "strokeWidth": 0.8},
 "encoding": {"x": {"field": "c", "type": "quantitative", "scale": {"domain": [0, 189], "range": [221, 293], "nice": false}, "axis": null}, "x2": {"datum": 0},
  "y": {"field": "lo", "type": "quantitative", "axis": {"title": null, "values": [-0.125, -0.1125, -0.1, -0.0875, -0.075, -0.0625, -0.05, -0.0375, -0.025], "format": ".3f", "labelExpr": "round(datum.value*10000) % 250 == 0 ? datum.label : ''"}}, "y2": {"field": "hi"}}},
{"data": {"name": "aasc"}, "mark": {"type": "line", "color": "#ed7d31", "strokeWidth": 1.3, "interpolate": "catmull-rom"},
 "encoding": {"x": {"field": "d", "type": "quantitative", "scale": {"domain": [0, 189], "range": [221, 293], "nice": false}, "axis": null},
  "y": {"field": "v", "type": "quantitative", "axis": {"title": null, "values": [-0.125, -0.1125, -0.1, -0.0875, -0.075, -0.0625, -0.05, -0.0375, -0.025], "format": ".3f", "labelExpr": "round(datum.value*10000) % 250 == 0 ? datum.label : ''"}}, "order": {"field": "v", "type": "quantitative"}}},
{"data": {"values": [{"y0": -0.125, "y1": -0.025}]}, "mark": {"type": "rect", "filled": false, "color": "#9a9a9a", "strokeWidth": 1},
 "encoding": {"x": {"datum": 0, "type": "quantitative", "scale": {"domain": [0, 1], "range": [221, 293], "nice": false}, "axis": null}, "x2": {"datum": 1},
  "y": {"field": "y0", "type": "quantitative", "axis": {"title": null, "values": [-0.125, -0.1125, -0.1, -0.0875, -0.075, -0.0625, -0.05, -0.0375, -0.025], "format": ".3f", "labelExpr": "round(datum.value*10000) % 250 == 0 ? datum.label : ''"}}, "y2": {"field": "y1"}}},
{"data": {"values": [{"y0": -0.125, "y1": -0.025}]}, "mark": {"type": "rect", "filled": false, "color": "#404040", "strokeWidth": 1},
 "encoding": {"x": {"datum": 0, "type": "quantitative", "scale": {"domain": [0, 1], "range": [0, 221], "nice": false}, "axis": null}, "x2": {"datum": 1},
  "y": {"field": "y0", "type": "quantitative", "axis": {"title": null, "values": [-0.125, -0.1125, -0.1, -0.0875, -0.075, -0.0625, -0.05, -0.0375, -0.025], "format": ".3f", "labelExpr": "round(datum.value*10000) % 250 == 0 ? datum.label : ''"}}, "y2": {"field": "y1"}}},
{"data": {"values": [{"y0": -0.125, "y1": -0.025}]}, "mark": {"type": "rule", "color": "#333333", "strokeWidth": 1.6},
 "encoding": {"x": {"datum": 0, "type": "quantitative", "scale": {"domain": [0, 1], "range": [221, 293], "nice": false}, "axis": null},
  "y": {"field": "y0", "type": "quantitative", "axis": {"title": null, "values": [-0.125, -0.1125, -0.1, -0.0875, -0.075, -0.0625, -0.05, -0.0375, -0.025], "format": ".3f", "labelExpr": "round(datum.value*10000) % 250 == 0 ? datum.label : ''"}}, "y2": {"field": "y1"}}}
]
},
{
"width": 297, "height": 157,
"title": {"text": "USTC-Zn: -0.009‰ ± 0.026‰\u00a0 (N = 126)"},
"resolve": {"scale": {"x": "independent"}},
"layer": [
{"data": {"values": [{"lo": -0.035, "hi": 0.017}]}, "mark": {"type": "rect", "color": "#c8c8c8"},
 "encoding": {"x": {"datum": 0, "type": "quantitative", "scale": {"domain": [0, 1], "range": [0, 222], "nice": false}, "axis": null}, "x2": {"datum": 1},
  "y": {"field": "hi", "type": "quantitative", "scale": {"domain": [-0.05, 0.05], "nice": false, "zero": false},
   "axis": {"title": "δ⁶⁶Zn", "values": [-0.05, -0.0375, -0.025, -0.0125, 0, 0.0125, 0.025, 0.0375, 0.05], "format": ".3f", "labelExpr": "round(datum.value*10000) % 250 == 0 ? datum.label : ''"}},
  "y2": {"field": "lo"}}},
{"data": {"name": "ustc"}, "mark": {"type": "point", "shape": "diamond", "filled": true, "fill": "#ffd75e", "stroke": "#404040", "strokeWidth": 0.8, "size": 50, "opacity": 1},
 "encoding": {"x": {"field": "x", "type": "quantitative", "scale": {"domain": [-20.5, 146.25], "range": [0, 222], "nice": false, "zero": false}, "axis": null},
  "y": {"field": "y", "type": "quantitative", "axis": {"title": "δ⁶⁶Zn", "values": [-0.05, -0.0375, -0.025, -0.0125, 0, 0.0125, 0.025, 0.0375, 0.05], "format": ".3f", "labelExpr": "round(datum.value*10000) % 250 == 0 ? datum.label : ''"}}}},
{"data": {"name": "ustch"}, "mark": {"type": "rect", "fill": "#5089c6", "stroke": "#2b4a6f", "strokeWidth": 0.8},
 "encoding": {"x": {"field": "c", "type": "quantitative", "scale": {"domain": [0, 45], "range": [222, 297], "nice": false}, "axis": null}, "x2": {"datum": 0},
  "y": {"field": "lo", "type": "quantitative", "axis": {"title": "δ⁶⁶Zn", "values": [-0.05, -0.0375, -0.025, -0.0125, 0, 0.0125, 0.025, 0.0375, 0.05], "format": ".3f", "labelExpr": "round(datum.value*10000) % 250 == 0 ? datum.label : ''"}}, "y2": {"field": "hi"}}},
{"data": {"name": "ustcc"}, "mark": {"type": "line", "color": "#ed7d31", "strokeWidth": 1.3, "interpolate": "catmull-rom"},
 "encoding": {"x": {"field": "d", "type": "quantitative", "scale": {"domain": [0, 45], "range": [222, 297], "nice": false}, "axis": null},
  "y": {"field": "v", "type": "quantitative", "axis": {"title": "δ⁶⁶Zn", "values": [-0.05, -0.0375, -0.025, -0.0125, 0, 0.0125, 0.025, 0.0375, 0.05], "format": ".3f", "labelExpr": "round(datum.value*10000) % 250 == 0 ? datum.label : ''"}}, "order": {"field": "v", "type": "quantitative"}}},
{"data": {"values": [{"y0": -0.05, "y1": 0.05}]}, "mark": {"type": "rect", "filled": false, "color": "#9a9a9a", "strokeWidth": 1},
 "encoding": {"x": {"datum": 0, "type": "quantitative", "scale": {"domain": [0, 1], "range": [222, 297], "nice": false}, "axis": null}, "x2": {"datum": 1},
  "y": {"field": "y0", "type": "quantitative", "axis": {"title": "δ⁶⁶Zn", "values": [-0.05, -0.0375, -0.025, -0.0125, 0, 0.0125, 0.025, 0.0375, 0.05], "format": ".3f", "labelExpr": "round(datum.value*10000) % 250 == 0 ? datum.label : ''"}}, "y2": {"field": "y1"}}},
{"data": {"values": [{"y0": -0.05, "y1": 0.05}]}, "mark": {"type": "rect", "filled": false, "color": "#404040", "strokeWidth": 1},
 "encoding": {"x": {"datum": 0, "type": "quantitative", "scale": {"domain": [0, 1], "range": [0, 222], "nice": false}, "axis": null}, "x2": {"datum": 1},
  "y": {"field": "y0", "type": "quantitative", "axis": {"title": "δ⁶⁶Zn", "values": [-0.05, -0.0375, -0.025, -0.0125, 0, 0.0125, 0.025, 0.0375, 0.05], "format": ".3f", "labelExpr": "round(datum.value*10000) % 250 == 0 ? datum.label : ''"}}, "y2": {"field": "y1"}}},
{"data": {"values": [{"y0": -0.05, "y1": 0.05}]}, "mark": {"type": "rule", "color": "#333333", "strokeWidth": 1.6},
 "encoding": {"x": {"datum": 0, "type": "quantitative", "scale": {"domain": [0, 1], "range": [222, 297], "nice": false}, "axis": null},
  "y": {"field": "y0", "type": "quantitative", "axis": {"title": "δ⁶⁶Zn", "values": [-0.05, -0.0375, -0.025, -0.0125, 0, 0.0125, 0.025, 0.0375, 0.05], "format": ".3f", "labelExpr": "round(datum.value*10000) % 250 == 0 ? datum.label : ''"}}, "y2": {"field": "y1"}}}
]
},
{
"width": 293, "height": 157,
"title": {"text": "BHVO-2: 0.320‰ ± 0.040‰\u00a0 (N = 116)"},
"resolve": {"scale": {"x": "independent"}},
"layer": [
{"data": {"values": [{"lo": 0.28, "hi": 0.36}]}, "mark": {"type": "rect", "color": "#c8c8c8"},
 "encoding": {"x": {"datum": 0, "type": "quantitative", "scale": {"domain": [0, 1], "range": [0, 221], "nice": false}, "axis": null}, "x2": {"datum": 1},
  "y": {"field": "hi", "type": "quantitative", "scale": {"domain": [0.25, 0.375], "nice": false, "zero": false},
   "axis": {"title": null, "values": [0.25, 0.2625, 0.275, 0.2875, 0.3, 0.3125, 0.325, 0.3375, 0.35, 0.3625, 0.375], "format": ".3f", "labelExpr": "round(datum.value*10000) % 250 == 0 ? datum.label : ''"}},
  "y2": {"field": "lo"}}},
{"data": {"name": "bhvo"}, "mark": {"type": "point", "shape": "diamond", "filled": true, "fill": "#ffd75e", "stroke": "#404040", "strokeWidth": 0.8, "size": 50, "opacity": 1},
 "encoding": {"x": {"field": "x", "type": "quantitative", "scale": {"domain": [-10.3, 125.6], "range": [0, 221], "nice": false, "zero": false}, "axis": null},
  "y": {"field": "y", "type": "quantitative", "axis": {"title": null, "values": [0.25, 0.2625, 0.275, 0.2875, 0.3, 0.3125, 0.325, 0.3375, 0.35, 0.3625, 0.375], "format": ".3f", "labelExpr": "round(datum.value*10000) % 250 == 0 ? datum.label : ''"}}}},
{"data": {"name": "bhvoh"}, "mark": {"type": "rect", "fill": "#5089c6", "stroke": "#2b4a6f", "strokeWidth": 0.8},
 "encoding": {"x": {"field": "c", "type": "quantitative", "scale": {"domain": [0, 59], "range": [221, 293], "nice": false}, "axis": null}, "x2": {"datum": 0},
  "y": {"field": "lo", "type": "quantitative", "axis": {"title": null, "values": [0.25, 0.2625, 0.275, 0.2875, 0.3, 0.3125, 0.325, 0.3375, 0.35, 0.3625, 0.375], "format": ".3f", "labelExpr": "round(datum.value*10000) % 250 == 0 ? datum.label : ''"}}, "y2": {"field": "hi"}}},
{"data": {"name": "bhvoc"}, "mark": {"type": "line", "color": "#ed7d31", "strokeWidth": 1.3, "interpolate": "catmull-rom"},
 "encoding": {"x": {"field": "d", "type": "quantitative", "scale": {"domain": [0, 59], "range": [221, 293], "nice": false}, "axis": null},
  "y": {"field": "v", "type": "quantitative", "axis": {"title": null, "values": [0.25, 0.2625, 0.275, 0.2875, 0.3, 0.3125, 0.325, 0.3375, 0.35, 0.3625, 0.375], "format": ".3f", "labelExpr": "round(datum.value*10000) % 250 == 0 ? datum.label : ''"}}, "order": {"field": "v", "type": "quantitative"}}},
{"data": {"values": [{"y0": 0.25, "y1": 0.375}]}, "mark": {"type": "rect", "filled": false, "color": "#9a9a9a", "strokeWidth": 1},
 "encoding": {"x": {"datum": 0, "type": "quantitative", "scale": {"domain": [0, 1], "range": [221, 293], "nice": false}, "axis": null}, "x2": {"datum": 1},
  "y": {"field": "y0", "type": "quantitative", "axis": {"title": null, "values": [0.25, 0.2625, 0.275, 0.2875, 0.3, 0.3125, 0.325, 0.3375, 0.35, 0.3625, 0.375], "format": ".3f", "labelExpr": "round(datum.value*10000) % 250 == 0 ? datum.label : ''"}}, "y2": {"field": "y1"}}},
{"data": {"values": [{"y0": 0.25, "y1": 0.375}]}, "mark": {"type": "rect", "filled": false, "color": "#404040", "strokeWidth": 1},
 "encoding": {"x": {"datum": 0, "type": "quantitative", "scale": {"domain": [0, 1], "range": [0, 221], "nice": false}, "axis": null}, "x2": {"datum": 1},
  "y": {"field": "y0", "type": "quantitative", "axis": {"title": null, "values": [0.25, 0.2625, 0.275, 0.2875, 0.3, 0.3125, 0.325, 0.3375, 0.35, 0.3625, 0.375], "format": ".3f", "labelExpr": "round(datum.value*10000) % 250 == 0 ? datum.label : ''"}}, "y2": {"field": "y1"}}},
{"data": {"values": [{"y0": 0.25, "y1": 0.375}]}, "mark": {"type": "rule", "color": "#333333", "strokeWidth": 1.6},
 "encoding": {"x": {"datum": 0, "type": "quantitative", "scale": {"domain": [0, 1], "range": [221, 293], "nice": false}, "axis": null},
  "y": {"field": "y0", "type": "quantitative", "axis": {"title": null, "values": [0.25, 0.2625, 0.275, 0.2875, 0.3, 0.3125, 0.325, 0.3375, 0.35, 0.3625, 0.375], "format": ".3f", "labelExpr": "round(datum.value*10000) % 250 == 0 ? datum.label : ''"}}, "y2": {"field": "y1"}}}
]
}
],
"config": {
"view": {"stroke": null},
"locale": {"number": {"decimal": ".", "thousands": ",", "grouping": [3], "currency": ["$", ""], "minus": "-"}},
"axis": {"labelFont": "DejaVu Sans", "labelFontWeight": "bold", "labelFontSize": 7.5, "labelColor": "#000000", "labelPadding": 8, "labelOverlap": false, "labelFlush": false,
 "tickColor": "#333333", "tickSize": 3, "tickWidth": 1, "domain": false, "grid": false, "minExtent": 33, "maxExtent": 33,
 "titleFont": "Liberation Sans", "titleFontSize": 18, "titleFontWeight": "bold", "titleColor": "#000000", "titlePadding": 4},
"title": {"anchor": "start", "frame": "group", "offset": -3, "baseline": "alphabetic", "font": "DejaVu Sans", "fontSize": 12.5, "fontWeight": "bold", "color": "#000000"}
}
}
